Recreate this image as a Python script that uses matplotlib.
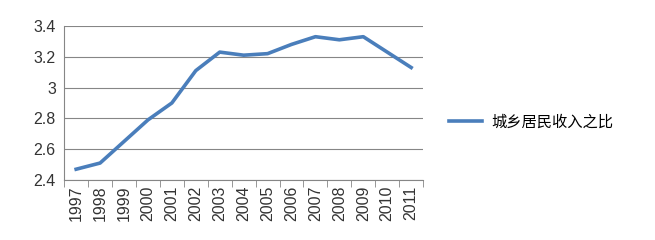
import matplotlib.pyplot as plt
import numpy as np

plt.rcParams['font.family'] = ['Liberation Sans', 'Noto Sans CJK SC']

years = ["1997", "1998", "1999", "2000", "2001", "2002", "2003", "2004",
         "2005", "2006", "2007", "2008", "2009", "2010", "2011"]
ratio = [2.47, 2.51, 2.65, 2.79, 2.90, 3.11, 3.23, 3.21,
         3.22, 3.28, 3.33, 3.31, 3.33, 3.23, 3.13]
series_name = "城乡居民收入之比"

fig = plt.figure(figsize=(6.55, 2.4), dpi=100)
ax = fig.add_axes([0.098, 0.25, 0.548, 0.642])

x = np.arange(len(years))
ax.plot(x, ratio, color="#4a7ebb", linewidth=2.6, label=series_name,
        solid_joinstyle="round")

ax.set_ylim(2.4, 3.4)
ax.set_yticks([2.4, 2.6, 2.8, 3.0, 3.2, 3.4])
ax.set_yticklabels(["2.4", "2.6", "2.8", "3", "3.2", "3.4"])
ax.set_xlim(-0.5, len(years) - 0.5)
ax.set_xticks(x)
ax.set_xticklabels(years, rotation=90)
ax.set_xticks(np.arange(-0.5, len(years)), minor=True)

ax.grid(axis="y", color="#868686", linewidth=0.8)
ax.set_axisbelow(True)
for s in ["top", "right"]:
    ax.spines[s].set_visible(False)
ax.spines["left"].set_color("#868686")
ax.spines["bottom"].set_color("#868686")

ax.tick_params(axis="y", length=0, labelsize=11.5, colors="#333333", pad=6)
ax.tick_params(axis="x", which="major", length=0, labelsize=11.5, colors="#333333", pad=4)
ax.tick_params(axis="x", which="minor", length=5, color="#868686")

fig.legend(loc="center left", bbox_to_anchor=(0.664, 0.49), frameon=False,
           fontsize=11, handlelength=2.2, handletextpad=0.6)

fig.savefig("out.png", dpi=100)
